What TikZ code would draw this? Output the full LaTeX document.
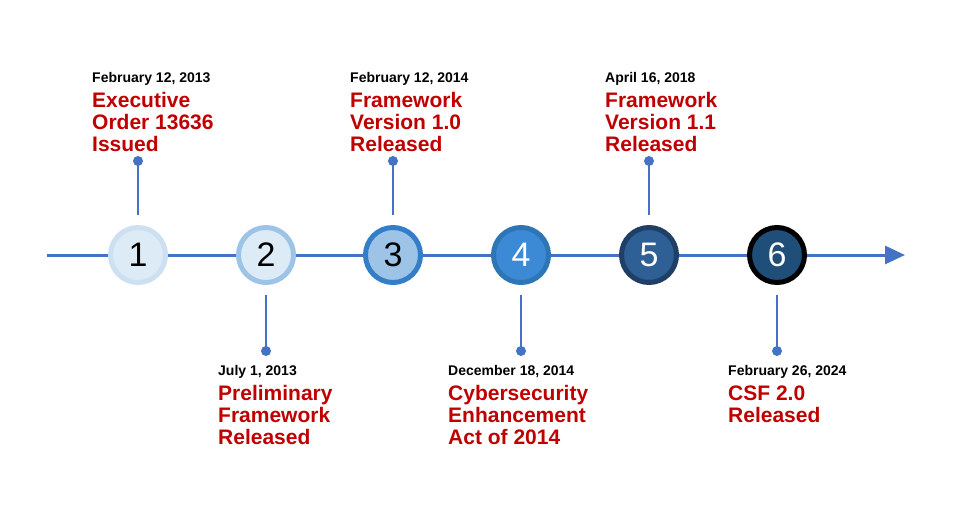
\documentclass[tikz,border=0pt]{standalone}
\usepackage{fontspec}
\setmainfont{Liberation Sans}
\usetikzlibrary{arrows.meta,positioning}
\definecolor{axisblue}{HTML}{4472C4}
\definecolor{titlered}{HTML}{C00000}
\definecolor{fillA}{HTML}{DDEBF7}
\definecolor{ringA}{HTML}{CDE0F2}
\definecolor{ringB}{HTML}{9DC3E6}
\definecolor{fillC}{HTML}{9DC3E6}
\definecolor{ringC}{HTML}{347DC8}
\definecolor{fillD}{HTML}{3C8AD6}
\definecolor{ringD}{HTML}{2E75B6}
\definecolor{fillE}{HTML}{2E5F95}
\definecolor{ringE}{HTML}{1F3F66}
\definecolor{fillF}{HTML}{1F4E79}
\tikzset{
  milestone/.style={circle,minimum size=55pt,line width=5pt,inner sep=0pt,font=\fontsize{34}{34}\selectfont},
  stem/.style={axisblue,line width=1.6pt},
  dot/.style={circle,fill=axisblue,minimum size=10pt,inner sep=0pt},
  date/.style={anchor=north west,inner sep=0pt,font=\bfseries\fontsize{14}{16}\selectfont},
  title/.style={anchor=north west,inner sep=0pt,align=left,text=titlered,font=\bfseries\fontsize{21}{22}\selectfont}
}
\begin{document}
\begin{tikzpicture}[x=1pt,y=1pt]
	\useasboundingbox (0,0) rectangle (960,504);
	\coordinate (start) at (47,249);
	\coordinate (end) at (905,249);
	\draw[axisblue,line width=3pt,-{Triangle[length=20pt,width=18pt]}] (start) -- (end);
	% milestones
	\node[milestone,fill=fillA,draw=ringA] (s1) at (138,249) {1};
	\node[milestone,fill=fillA,draw=ringB] (s2) at (266,249) {2};
	\node[milestone,fill=fillC,draw=ringC] (s3) at (393,249) {3};
	\node[milestone,fill=fillD,draw=ringD,text=white] (s4) at (521,249) {4};
	\node[milestone,fill=fillE,draw=ringE,text=white] (s5) at (649,249) {5};
	\node[milestone,fill=fillF,draw=black,text=white] (s6) at (777,249) {6};
	% stems above
	\foreach \i in {1,3,5} {
		\node[dot] (d\i) at ([yshift=94pt]s\i.center) {};
		\draw[stem] ([yshift=40pt]s\i.center) -- (d\i.center);
	}
	% stems below
	\foreach \i in {2,4,6} {
		\node[dot] (d\i) at ([yshift=-96pt]s\i.center) {};
		\draw[stem] ([yshift=-40pt]s\i.center) -- (d\i.center);
	}
	% labels
	\node[date] (t1) at (92,432) {February 12, 2013};
	\node[title,below=7pt of t1.south west,anchor=north west] {Executive\\Order 13636\\Issued};
	\node[date] (t3) at (350,432) {February 12, 2014};
	\node[title,below=7pt of t3.south west,anchor=north west] {Framework\\Version 1.0\\Released};
	\node[date] (t5) at (605,432) {April 16, 2018};
	\node[title,below=7pt of t5.south west,anchor=north west] {Framework\\Version 1.1\\Released};
	\node[date] (t2) at (218,139) {July 1, 2013};
	\node[title,below=7pt of t2.south west,anchor=north west] {Preliminary\\Framework\\Released};
	\node[date] (t4) at (448,139) {December 18, 2014};
	\node[title,below=7pt of t4.south west,anchor=north west] {Cybersecurity\\Enhancement\\Act of 2014};
	\node[date] (t6) at (728,139) {February 26, 2024};
	\node[title,below=7pt of t6.south west,anchor=north west] {CSF 2.0\\Released};
\end{tikzpicture}
\end{document}
